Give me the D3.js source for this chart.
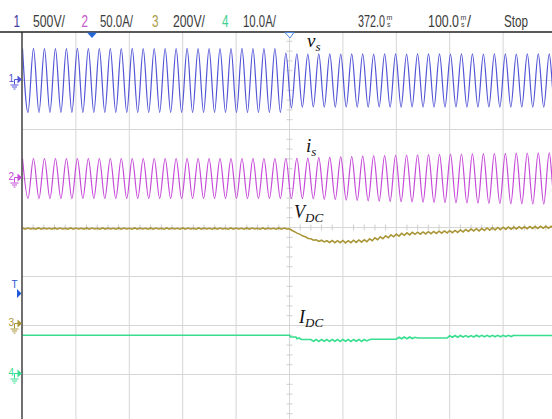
<!DOCTYPE html>
<html>
<head>
<meta charset="utf-8">
<script src="https://cdn.jsdelivr.net/npm/d3@7"></script>
<style>
  body { margin: 0; background: #fff; }
  svg { display: block; }
</style>
</head>
<body>
<div id="graf"></div>
<script>
// I. Configuración
ancho_total = 552
alto_total = 419

divX = 53.4      // px por división horizontal
divY = 49        // px por división vertical
centroY = 227.5
izq = 22.5

graf = d3.select('#graf')
svg = graf.append('svg')
  .attr('width', ancho_total)
  .attr('height', alto_total)

// II.
canales  = ['1', '2', '3', '4']
escalas  = ['500V/', '50.0A/', '200V/', '10.0A/']
voltsDiv = [500, 50, 200, 10]
offsetDiv = [3, 1, -1.98, -3]
colores  = ['#5254d6', '#c64ad8', '#a99536', '#38de8f']
colNum   = ['#45429c', '#c456c8', '#ab9a44', '#3fcf92']

periodo = 20.55   // ms, red

// amplitud de vs por ciclo (V)
vsAmp = [
  326, 327, 326, 325, 326, 327, 326, 326, 325, 326,
  327, 326, 326, 325, 326, 327, 326, 326, 325, 326,
  327, 326, 326, 325, 280, 272, 270, 271, 272, 270,
  271, 272, 270, 271, 272, 270, 271, 272, 271, 270,
  272, 271, 270, 272, 271, 270, 271, 272, 271, 270
]

// amplitud de is por ciclo (A)
isAmp = [
  20.4, 20.4, 20.4, 20.4, 20.4, 20.4, 20.4, 20.4, 20.4, 20.4,
  20.4, 20.4, 20.4, 20.4, 20.4, 20.4, 20.4, 20.4, 20.4, 20.4,
  20.4, 20.4, 20.4, 20.4, 20.4, 20.5, 20.8, 21.2, 21.6, 22.0,
  22.4, 22.8, 23.1, 23.4, 23.7, 24.0, 24.2, 24.4, 24.6, 24.8,
  25.0, 25.2, 25.4, 25.5, 25.7, 25.8, 26.0, 26.1, 26.2, 26.3
]

// VDC cada 5 ms (V)
vdcPaso = 5
vdc = [
  394, 389, 394, 390, 393, 389, 394, 389, 394, 390,
  393, 389, 394, 389, 394, 390, 393, 389, 394, 389,
  394, 390, 393, 389, 394, 389, 394, 390, 393, 389,
  394, 389, 394, 390, 393, 389, 394, 389, 394, 390,
  393, 389, 394, 389, 394, 390, 393, 389, 394, 389,
  394, 390, 393, 389, 394, 389, 394, 390, 393, 389,
  394, 389, 394, 390, 393, 389, 394, 389, 394, 390,
  393, 389, 394, 389, 394, 390, 393, 389, 394, 389,
  394, 390, 393, 389, 394, 389, 394, 390, 393, 389,
  394, 389, 394, 390, 393, 389, 394, 389, 394, 390,
  391, 384, 378, 372, 368, 361, 358, 351, 350, 344,
  346, 339, 344, 337, 342, 335, 343, 334, 342, 334,
  343, 333, 342, 334, 344, 335, 345, 336, 346, 338,
  350, 342, 354, 346, 358, 350, 362, 354, 366, 358,
  369, 361, 372, 364, 374, 366, 376, 368, 377, 369,
  378, 370, 379, 371, 380, 372, 381, 373, 382, 374,
  383, 375, 384, 376, 386, 378, 388, 380, 390, 382,
  391, 382, 392, 384, 394, 385, 395, 386, 396, 387,
  397, 388, 398, 389, 398, 390, 399, 391, 399, 391,
  400, 392, 400, 392, 401, 393, 401, 393, 401, 393
]

// IDC: instantes (ms) y valores (A)
idcTiempo = [
  0, 500, 502, 512, 514, 518, 522, 540,
  545, 550, 555, 560, 565, 570, 575, 580, 585, 590, 595, 600,
  605, 610, 615, 620, 625, 630, 635, 640, 645, 650,
  655, 700, 705, 710, 715, 720, 725, 730, 735, 740, 795,
  800, 805, 810, 815, 820, 825, 830, 835, 840, 845, 850,
  855, 860, 865, 870, 875, 880, 885, 890, 895, 900, 905,
  910, 915, 920, 925, 1000
]
idcValor = [
  8.0, 8.0, 7.65, 7.65, 7.3, 7.45, 7.15, 7.15,
  6.8, 7.15, 6.75, 7.15, 6.8, 7.15, 6.75, 7.15, 6.8, 7.15, 6.75, 7.15,
  6.8, 7.15, 6.75, 7.15, 6.8, 7.15, 6.75, 7.15, 6.85, 7.15,
  7.2, 7.2, 7.6, 7.3, 7.65, 7.3, 7.65, 7.35, 7.6, 7.45, 7.45,
  7.9, 7.6, 7.95, 7.6, 7.95, 7.65, 7.95, 7.65, 7.95, 7.65, 8.0,
  7.7, 8.0, 7.7, 8.0, 7.7, 8.0, 7.7, 8.0, 7.7, 8.0, 7.75,
  8.0, 7.75, 8.0, 7.95, 7.95
]

// III. Escalas
x = d3.scaleLinear().domain([0, 1000]).range([izq, izq + 10 * divX])

function escalaCanal(vd, off) {
  return d3.scaleLinear()
    .domain([(-4 - off) * vd, (4 - off) * vd])
    .range([centroY + 4 * divY, centroY - 4 * divY])
}
y = canales.map((c, i) => escalaCanal(voltsDiv[i], offsetDiv[i]))

// IV. Retícula
grid = svg.append('g')

grid.selectAll('line.v')
  .data(x.ticks(10).filter(d => d > 0))
  .enter().append('line')
    .attr('x1', d => x(d)).attr('x2', d => x(d))
    .attr('y1', 32).attr('y2', alto_total)
    .attr('stroke', '#d6d6d6')

grid.selectAll('line.h')
  .data(d3.range(-3, 5))
  .enter().append('line')
    .attr('x1', izq).attr('x2', ancho_total)
    .attr('y1', d => centroY + d * divY).attr('y2', d => centroY + d * divY)
    .attr('stroke', '#d6d6d6')

// marcas menores en los ejes centrales
grid.selectAll('line.tv')
  .data(d3.range(-20, 21).filter(d => d % 5 != 0))
  .enter().append('line')
    .attr('x1', x(500) - 3).attr('x2', x(500) + 3)
    .attr('y1', d => centroY + d * divY / 5).attr('y2', d => centroY + d * divY / 5)
    .attr('stroke', '#cfcfcf')

grid.selectAll('line.th')
  .data(d3.range(0, 1001, 20).filter(d => d % 100 != 0))
  .enter().append('line')
    .attr('x1', d => x(d)).attr('x2', d => x(d))
    .attr('y1', centroY - 3).attr('y2', centroY + 3)
    .attr('stroke', '#cfcfcf')

// V. Trazas
svg.append('clipPath').attr('id', 'pantalla')
  .append('rect')
    .attr('x', izq).attr('y', 32)
    .attr('width', ancho_total - izq).attr('height', alto_total - 32)

trazas = svg.append('g').attr('clip-path', 'url(#pantalla)')

function puntosSeno(amps) {
  pts = []
  amps.forEach((a, k) => {
    pts.push({ t: k * periodo, v: a })
    pts.push({ t: k * periodo + periodo / 2, v: -a })
  })
  return pts
}

series = [
  { datos: puntosSeno(vsAmp), curva: d3.curveMonotoneX },
  { datos: puntosSeno(isAmp), curva: d3.curveMonotoneX },
  { datos: vdc.map((v, i) => ({ t: i * vdcPaso, v: v })), curva: d3.curveLinear },
  { datos: idcTiempo.map((t, i) => ({ t: t, v: idcValor[i] })), curva: d3.curveLinear }
]

series.forEach((s, i) => {
  linea = d3.line()
    .x(d => x(d.t))
    .y(d => y[i](d.v))
    .curve(s.curva)
  trazas.append('path')
    .attr('d', linea(s.datos))
    .attr('fill', 'none')
    .attr('stroke', colores[i])
    .attr('stroke-width', i < 2 ? 1.2 : 1.6)
})

// bordes
svg.append('line')
  .attr('x1', 0).attr('x2', ancho_total)
  .attr('y1', 32).attr('y2', 32)
  .attr('stroke', '#222').attr('stroke-width', 1.3)
svg.append('line')
  .attr('x1', 22).attr('x2', 22)
  .attr('y1', 32).attr('y2', alto_total)
  .attr('stroke', '#222').attr('stroke-width', 1.3)

// VI. Marcadores de canal
function marcador(etiqueta, yPos, color) {
  m = svg.append('g').attr('fill', color).attr('stroke', color)
  m.append('text')
    .attr('x', 8.5).attr('y', yPos + 2)
    .attr('stroke', 'none')
    .style('font', '10px "Liberation Sans", sans-serif')
    .text(etiqueta)
  m.append('line').attr('x1', 14.5).attr('x2', 18).attr('y1', yPos).attr('y2', yPos)
  m.append('path').attr('d', `M17.5,${yPos - 4}L22,${yPos}L17.5,${yPos + 4}Z`).attr('stroke', 'none')
  m.append('line').attr('x1', 14.5).attr('x2', 14.5).attr('y1', yPos).attr('y2', yPos + 5)
  m.append('line').attr('x1', 10.5).attr('x2', 18.5).attr('y1', yPos + 5.5).attr('y2', yPos + 5.5)
  m.append('line').attr('x1', 12).attr('x2', 17).attr('y1', yPos + 7.5).attr('y2', yPos + 7.5)
  m.append('line').attr('x1', 13.5).attr('x2', 15.5).attr('y1', yPos + 9.5).attr('y2', yPos + 9.5)
}
canales.forEach((c, i) => marcador(c, y[i](0) - 1, colores[i]))

// disparo
svg.append('text')
  .attr('x', 14.5).attr('y', 288)
  .attr('text-anchor', 'middle')
  .attr('fill', '#2d55d0')
  .style('font', '10px "Liberation Sans", sans-serif')
  .text('T')
svg.append('path')
  .attr('d', 'M17,289L21.5,293.5L17,298Z')
  .attr('fill', '#1f5ad8')

svg.append('path')
  .attr('d', 'M87,32.5L97,32.5L92,38Z')
  .attr('fill', '#2667d6')
svg.append('path')
  .attr('d', `M${x(500) - 4.5},32.5L${x(500) + 4.5},32.5L${x(500) + 0.5},38Z`)
  .attr('fill', '#fff').attr('stroke', '#4a86e0').attr('stroke-width', 1)

// VII. Cabecera (texto estrecho: se escala en x hasta el ancho medido)
cab = svg.append('g')
  .style('font-family', '"Liberation Sans", sans-serif')
  .style('font-size', '16px')

function textoEstrecho(txt, x0, ancho, color) {
  t = cab.append('text').attr('fill', color).text(txt)
  w = t.node().getComputedTextLength()
  t.attr('transform', `translate(${x0}, 27) scale(${ancho / w}, 1)`)
  return t
}

numX = [13.5, 81.5, 152, 222]
escX = [33, 100, 173, 243]
escAncho = [32, 33, 32, 33]

canales.forEach((c, i) => {
  textoEstrecho(c, numX[i], 6.5, colNum[i])
  textoEstrecho(escalas[i], escX[i], escAncho[i], '#3b3b3b')
})

// unidades apiladas "m" sobre "s"
function tiempo(valor, x0, ancho, barra) {
  textoEstrecho(valor, x0, ancho, '#3b3b3b')
  xu = x0 + ancho + 1.5
  cab.append('text').attr('x', xu).attr('y', 19.5)
    .attr('fill', '#3b3b3b').style('font-size', '7px').text('m')
  cab.append('text').attr('x', xu + 0.5).attr('y', 27)
    .attr('fill', '#3b3b3b').style('font-size', '7px').text('s')
  if (barra) {
    textoEstrecho('/', xu + 6.5, 4, '#3b3b3b')
  }
}
tiempo('372.0', 358, 27, false)
tiempo('100.0', 428, 31, true)

textoEstrecho('Stop', 504, 24, '#3b3b3b')

// VIII. Etiquetas de las señales
etiquetas = [
  { base: 'v', sub: 's', x: 307, y: 47, tam: 19, subTam: 13 },
  { base: 'i', sub: 's', x: 306, y: 152, tam: 19, subTam: 13 },
  { base: 'V', sub: 'DC', x: 294, y: 218, tam: 18, subTam: 13 },
  { base: 'I', sub: 'DC', x: 299, y: 323, tam: 18, subTam: 13 }
]

etiquetas.forEach(e => {
  t = svg.append('text')
    .attr('x', e.x).attr('y', e.y)
    .attr('fill', '#111')
    .style('font-family', '"Liberation Serif", "Times New Roman", serif')
    .style('font-style', 'italic')
    .style('font-size', e.tam + 'px')
  t.append('tspan').text(e.base)
  t.append('tspan')
    .attr('dy', 4)
    .style('font-size', e.subTam + 'px')
    .text(e.sub)
})
</script>
</body>
</html>
